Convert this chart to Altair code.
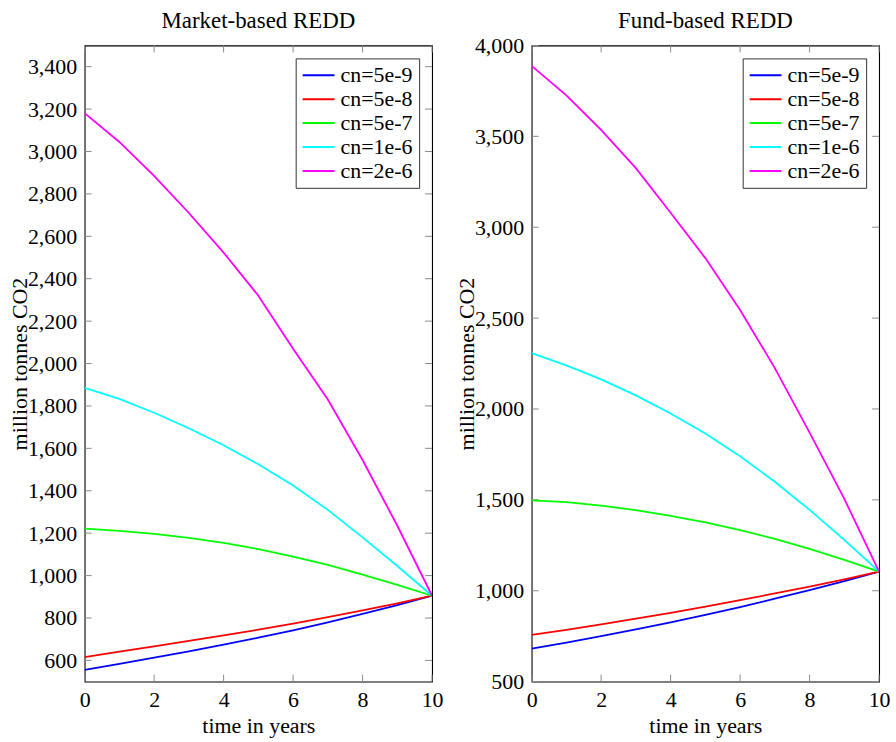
import altair as alt
import pandas as pd

years = list(range(11))
series = ["cn=5e-9", "cn=5e-8", "cn=5e-7", "cn=1e-6", "cn=2e-6"]
colors = ["#0000ff", "#ff0000", "#00ff00", "#00ffff", "#ff00ff"]

# Market-based REDD
market_5e9 = [555, 584, 613, 643, 674, 707, 742, 779, 819, 861, 905]
market_5e8 = [616, 641, 666, 692, 718, 745, 774, 804, 836, 869, 905]
market_5e7 = [1221, 1211, 1197, 1178, 1154, 1125, 1090, 1050, 1005, 956, 905]
market_1e6 = [1885, 1833, 1768, 1695, 1615, 1525, 1425, 1310, 1180, 1045, 905]
market_2e6 = [3181, 3045, 2885, 2710, 2523, 2320, 2070, 1830, 1545, 1235, 905]

# Fund-based REDD
fund_5e9 = [682, 715, 750, 787, 826, 867, 910, 956, 1004, 1053, 1105]
fund_5e8 = [757, 785, 815, 846, 878, 912, 948, 985, 1023, 1063, 1105]
fund_5e7 = [1497, 1487, 1468, 1443, 1412, 1376, 1334, 1285, 1230, 1170, 1105]
fund_1e6 = [2307, 2240, 2163, 2075, 1975, 1865, 1740, 1600, 1445, 1280, 1105]
fund_2e6 = [3888, 3725, 3535, 3325, 3080, 2830, 2545, 2225, 1870, 1505, 1105]

titles = ["Market-based REDD", "Fund-based REDD"]
x_ticks = [0, 2, 4, 6, 8, 10]
market_y_ticks = list(range(600, 3401, 200))
fund_y_ticks = [500, 1000, 1500, 2000, 2500, 3000, 3500, 4000]
market_domain = [500, 3500]
fund_domain = [500, 4000]

FONT = "Liberation Serif"
FS = 22
W, H = 349, 639
TICK = 7
TICK_COLOR = "#8a8a8a"


def frame(values_list):
    rows = []
    for name, vals in zip(series, values_list):
        for t, v in zip(years, vals):
            rows.append({"t": t, "v": v, "series": name})
    return pd.DataFrame(rows)


def panel(title, values_list, y_ticks, y_domain):
    df = frame(values_list)
    xs = alt.Scale(domain=[0, 10], nice=False, zero=False)
    ys = alt.Scale(domain=y_domain, nice=False, zero=False)
    xaxis = alt.Axis(values=x_ticks, format="d", title="time in years",
                     labelFlush=False, labelOverlap=False,
                     labelPadding=8, titleY=51, titleBaseline="alphabetic")
    yaxis = alt.Axis(values=y_ticks, format=",d", title="million tonnes CO2",
                     labelFlush=False, labelOverlap=False, labelPadding=8,
                     titleAngle=270, titleX=-58, titleY=H / 2,
                     titleAlign="center", titleBaseline="alphabetic")
    ytdf = pd.DataFrame({"v": y_ticks})
    xtdf = pd.DataFrame({"v": x_ticks})

    yl = alt.Chart(ytdf).mark_rule(color=TICK_COLOR, strokeWidth=1).encode(
        y=alt.Y("v:Q", scale=ys, axis=yaxis), x=alt.value(0), x2=alt.value(TICK))
    yr = alt.Chart(ytdf).mark_rule(color=TICK_COLOR, strokeWidth=1).encode(
        y=alt.Y("v:Q", scale=ys, axis=yaxis), x=alt.value(W - TICK), x2=alt.value(W))
    xb = alt.Chart(xtdf).mark_rule(color=TICK_COLOR, strokeWidth=1).encode(
        x=alt.X("v:Q", scale=xs, axis=xaxis), y=alt.value(H), y2=alt.value(H - TICK))
    xt = alt.Chart(xtdf).mark_rule(color=TICK_COLOR, strokeWidth=1).encode(
        x=alt.X("v:Q", scale=xs, axis=xaxis), y=alt.value(0), y2=alt.value(TICK))

    lines = alt.Chart(df).mark_line(strokeWidth=1.8, clip=True).encode(
        x=alt.X("t:Q", scale=xs, axis=xaxis),
        y=alt.Y("v:Q", scale=ys, axis=yaxis),
        color=alt.Color("series:N", sort=series,
                        scale=alt.Scale(domain=series, range=colors),
                        legend=alt.Legend(title=None, orient="none", legendX=212, legendY=13,
                                          strokeColor="#333333", fillColor="white",
                                          padding=6, symbolType="M-1,0L2.2,0", symbolSize=400,
                                          symbolStrokeWidth=2, labelFont=FONT,
                                          labelFontSize=FS, labelOffset=17, rowPadding=2,
                                          labelLimit=300)),
        detail="series:N",
    )

    ttl = alt.Chart(pd.DataFrame({"title": [title]})).mark_text(
        font=FONT, fontSize=23, color="black", align="center", baseline="alphabetic"
    ).encode(text="title:N", x=alt.value(W / 2), y=alt.value(-18))

    return alt.layer(yl, yr, xb, xt, lines, ttl).properties(width=W, height=H)


left = panel(titles[0],
             [market_5e9, market_5e8, market_5e7, market_1e6, market_2e6],
             market_y_ticks, market_domain)
right = panel(titles[1],
              [fund_5e9, fund_5e8, fund_5e7, fund_1e6, fund_2e6],
              fund_y_ticks, fund_domain)

chart = alt.hconcat(left, right, spacing=100, bounds="flush").resolve_scale(
    color="independent", x="independent", y="independent"
).resolve_legend(color="independent").properties(
    padding={"left": 8, "top": 7, "right": 5, "bottom": 5},
    background="white",
).configure_view(
    stroke="black", strokeWidth=1.1
).configure_axis(
    labelFont=FONT, labelFontSize=FS, labelColor="black",
    titleFont=FONT, titleFontSize=FS, titleFontWeight="normal", titleColor="black",
    grid=False, ticks=False, domain=False,
)

chart.save("out.html", embed_options={"renderer": "svg", "actions": False})
